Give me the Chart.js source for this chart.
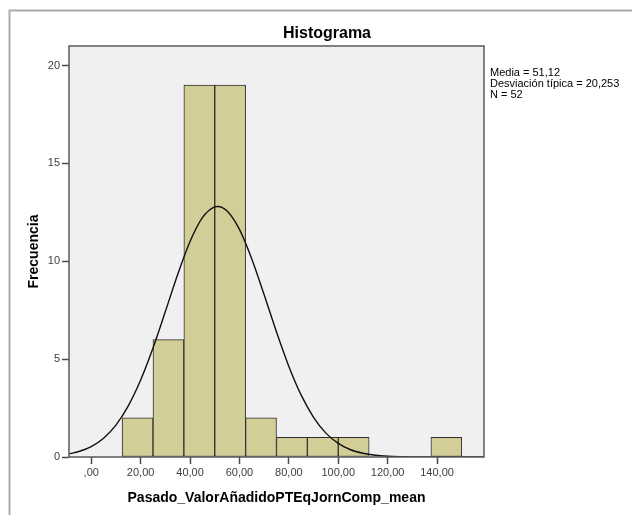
<!DOCTYPE html>
<html>
<head>
<meta charset="utf-8">
<script src="https://cdn.jsdelivr.net/npm/chart.js@4.4.1/dist/chart.umd.min.js"></script>
<style>
  html, body { margin: 0; padding: 0; background: #ffffff; }
  #wrap { width: 632px; height: 515px; position: relative; }
</style>
</head>
<body>
<div id="wrap"><canvas id="c" width="632" height="515"></canvas></div>
<script>
// ---- data ----
const chartTitle = "Histograma";
const xTitle = "Pasado_ValorAñadidoPTEqJornComp_mean";
const yTitle = "Frecuencia";
const statsLines = ["Media = 51,12", "Desviación típica = 20,253", "N = 52"];

const binWidth = 12.5;
const binLower = [12.5, 25, 37.5, 50, 62.5, 75, 87.5, 100, 112.5, 125, 137.5];
const binCounts = [2, 6, 19, 19, 2, 1, 1, 1, 0, 0, 1];

const curveX = [-9, -5, 0, 5, 10, 15, 20, 25, 30, 35, 40, 45, 50, 51.12, 55, 60, 65, 70, 75, 80, 85, 90, 95, 100, 105, 110, 115, 120, 125, 130, 135, 140, 150, 159];
const curveY = [0.16, 0.28, 0.53, 0.96, 1.63, 2.61, 3.93, 5.57, 7.43, 9.33, 11.01, 12.23, 12.78, 12.80, 12.57, 11.63, 10.12, 8.29, 6.39, 4.63, 3.16, 2.03, 1.22, 0.70, 0.37, 0.19, 0.09, 0.04, 0.017, 0.007, 0.002, 0.001, 0, 0];

const xTickValues = [0, 20, 40, 60, 80, 100, 120, 140];
const xTickLabels = [",00", "20,00", "40,00", "60,00", "80,00", "100,00", "120,00", "140,00"];
const yTickValues = [0, 5, 10, 15, 20];
const yTickLabels = ["0", "5", "10", "15", "20"];
const xMin = -9, xMax = 159, yMin = 0, yMax = 21;

// ---- build ----
const FONT = "'Liberation Sans', Arial, sans-serif";
const barData = binLower.map((lo, i) => ({ x: lo + binWidth / 2, y: binCounts[i] }));
const lineData = curveX.map((x, i) => ({ x: x, y: curveY[i] }));

const decor = {
  id: 'decor',
  beforeDraw(chart) {
    const ctx = chart.ctx, a = chart.chartArea;
    ctx.save();
    ctx.fillStyle = '#ffffff';
    ctx.fillRect(0, 0, chart.width, chart.height);
    // outer frame
    ctx.strokeStyle = '#ababab';
    ctx.lineWidth = 2;
    ctx.beginPath();
    ctx.moveTo(9.5, chart.height + 2);
    ctx.lineTo(9.5, 10.5);
    ctx.lineTo(chart.width + 2, 10.5);
    ctx.stroke();
    // plot background
    ctx.fillStyle = '#f0f0f0';
    ctx.fillRect(a.left, a.top, a.right - a.left, a.bottom - a.top);
    ctx.restore();
  },
  afterDraw(chart) {
    const ctx = chart.ctx, a = chart.chartArea;
    ctx.save();
    ctx.strokeStyle = '#5a5a5a';
    ctx.lineWidth = 1.5;
    ctx.strokeRect(a.left, a.top, a.right - a.left, a.bottom - a.top);
    ctx.fillStyle = '#000000';
    ctx.font = "bold 16px " + FONT;
    ctx.textAlign = 'center';
    ctx.textBaseline = 'middle';
    ctx.fillText(chartTitle, 327, 34);
    ctx.font = "11px " + FONT;
    ctx.textAlign = 'left';
    statsLines.forEach((s, i) => ctx.fillText(s, 490, 73 + i * 11));
    ctx.restore();
  }
};

new Chart(document.getElementById('c'), {
  type: 'bar',
  data: {
    datasets: [
      {
        type: 'line',
        data: lineData,
        borderColor: '#111111',
        borderWidth: 1.4,
        pointRadius: 0,
        fill: false,
        cubicInterpolationMode: 'monotone',
        order: 0
      },
      {
        type: 'bar',
        data: barData,
        backgroundColor: '#d3ce97',
        borderColor: '#2f2f2f',
        borderWidth: (c) => (c.raw && c.raw.y > 0 ? 1 : 0),
        borderSkipped: false,
        barPercentage: 1,
        categoryPercentage: 1,
        grouped: false,
        order: 1
      }
    ]
  },
  options: {
    responsive: false,
    animation: false,
    layout: { padding: { left: 0, right: 148, top: 46, bottom: 0 } },
    plugins: { legend: { display: false }, tooltip: { enabled: false }, title: { display: false } },
    scales: {
      x: {
        type: 'linear',
        min: xMin, max: xMax,
        offset: false,
        afterBuildTicks(scale) { scale.ticks = xTickValues.map(v => ({ value: v })); },
        afterFit(scale) { scale.height = 58; },
        grid: { offset: false, drawOnChartArea: false, drawTicks: true, tickLength: 7, tickWidth: 1.5, color: '#4a4a4a' },
        border: { display: false },
        ticks: {
          padding: 2,
          color: '#404040',
          font: { family: FONT, size: 11 },
          maxRotation: 0,
          autoSkip: false,
          callback: (v) => { const i = xTickValues.indexOf(v); return i >= 0 ? xTickLabels[i] : ''; }
        },
        title: {
          display: true,
          text: xTitle,
          color: '#000000',
          font: { family: FONT, size: 14, weight: 'bold' },
          padding: { top: 0, bottom: 8 }
        }
      },
      y: {
        type: 'linear',
        min: yMin, max: yMax,
        afterBuildTicks(scale) { scale.ticks = yTickValues.map(v => ({ value: v })); },
        afterFit(scale) { scale.width = 69; },
        grid: { offset: false, drawOnChartArea: false, drawTicks: true, tickLength: 7, tickWidth: 1.5, color: '#4a4a4a' },
        border: { display: false },
        ticks: {
          padding: 2,
          color: '#404040',
          font: { family: FONT, size: 11 },
          callback: (v) => { const i = yTickValues.indexOf(v); return i >= 0 ? yTickLabels[i] : ''; }
        },
        title: {
          display: true,
          text: yTitle,
          color: '#000000',
          font: { family: FONT, size: 14, weight: 'bold' },
          padding: { top: 26, bottom: 0 }
        }
      }
    }
  },
  plugins: [decor]
});
</script>
</body>
</html>
